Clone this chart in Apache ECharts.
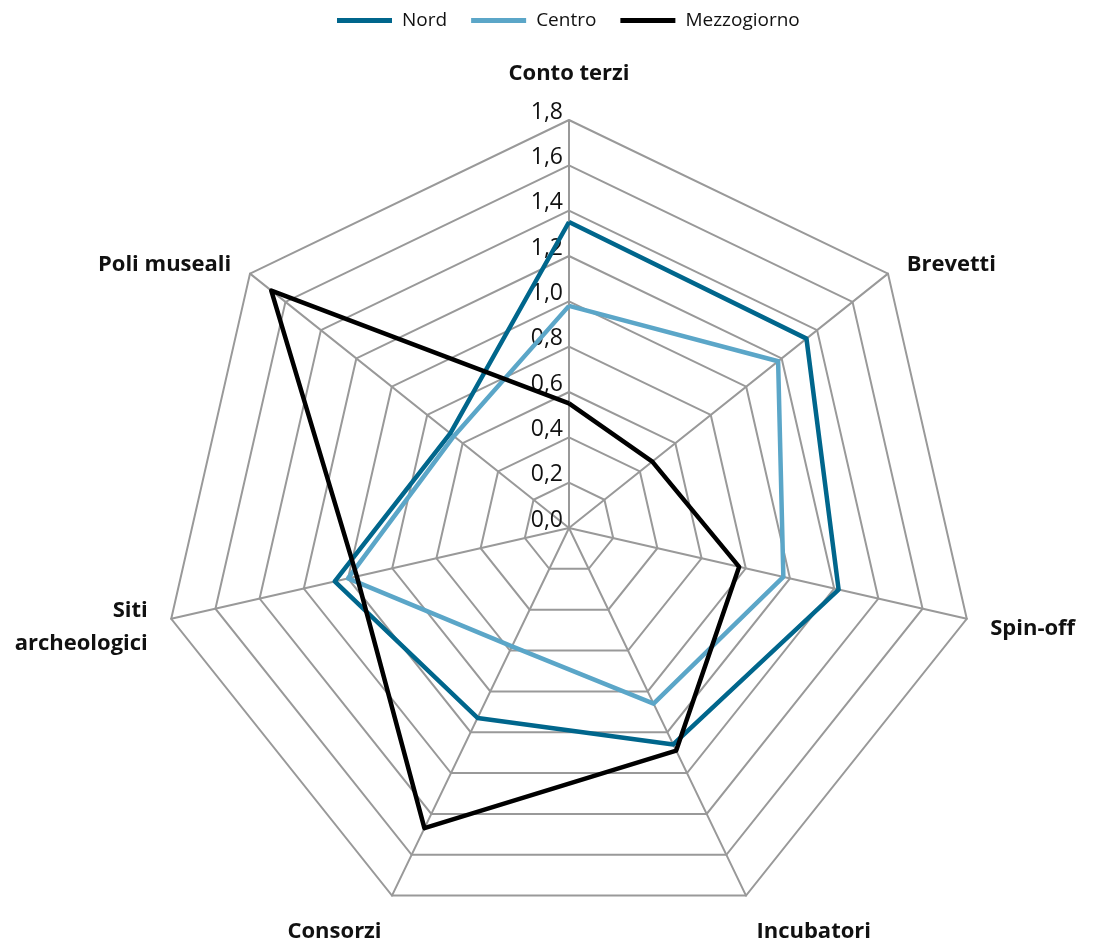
<!DOCTYPE html>
<html>
<head>
<meta charset="utf-8">
<script src="https://cdn.jsdelivr.net/npm/echarts@6/dist/echarts.min.js"></script>
<style>
html,body{margin:0;padding:0;background:#fff;}
#chart{width:1097px;height:949px;}
</style>
</head>
<body>
<div id="chart"></div>
<script>
// Indicators in clockwise order as seen in the chart (starting at top)
const indicators = ['Conto terzi', 'Brevetti', 'Spin-off', 'Incubatori', 'Consorzi', 'Siti\narcheologici', 'Poli museali'];
const nord        = [1.35, 1.34, 1.22, 1.06, 0.93, 1.06, 0.67];
const centro      = [0.98, 1.18, 0.97, 0.86, 0.58, 1.00, 0.65];
const mezzogiorno = [0.55, 0.47, 0.77, 1.09, 1.47, 0.96, 1.68];
const seriesNames = ['Nord', 'Centro', 'Mezzogiorno'];
const colors = ['#00668c', '#5ba6c8', '#000000'];
const axisMax = 1.8;

// ECharts radar places indicators counter-clockwise; reverse all but the first
function ccw(arr) { return [arr[0]].concat(arr.slice(1).reverse()); }

// spacer lines (rich style keys) used to nudge names
const nameSpacerAbove = {
  'Brevetti': 's12',
  'Spin-off': 's10',
  'Incubatori': 's30',
  'Consorzi': 's30',
  'Siti\narcheologici': 's6',
  'Poli museali': 's12'
};
const nameSpacerBelow = {
  'Conto terzi': 's6'
};

function formatName(name) {
  let s = name;
  if (nameSpacerAbove[name]) s = '{' + nameSpacerAbove[name] + '| }\n' + s;
  if (nameSpacerBelow[name]) s = s + '\n{' + nameSpacerBelow[name] + '| }';
  return s;
}

const ind = ccw(indicators).map((n, i) => {
  const o = { name: n, max: axisMax, min: 0 };
  if (i === 0) {
    o.axisLabel = {
      show: true,
      color: '#111',
      fontSize: 23,
      fontFamily: 'Open Sans',
      margin: 6,
      verticalAlign: 'bottom',
      lineHeight: 16,
      formatter: v => v.toFixed(1).replace('.', ',')
    };
  }
  return o;
});

const chart = echarts.init(document.getElementById('chart'), null, { renderer: 'canvas' });
chart.setOption({
  animation: false,
  color: colors,
  legend: {
    top: 6,
    left: 332,
    icon: 'rect',
    itemWidth: 55,
    itemHeight: 5,
    itemGap: 24,
    textStyle: { fontFamily: 'Open Sans', fontSize: 19, color: '#111', padding: [0, 0, 0, 5] },
    data: seriesNames
  },
  radar: {
    center: [569, 528],
    radius: 408,
    startAngle: 90,
    shape: 'polygon',
    splitNumber: 9,
    indicator: ind,
    nameGap: 24,
    axisName: {
      color: '#111',
      fontFamily: 'Open Sans',
      fontSize: 22,
      fontWeight: 'bold',
      lineHeight: 33,
      formatter: formatName,
      rich: {
        s6:  { lineHeight: 6,  fontSize: 4 },
        s10: { lineHeight: 10, fontSize: 4 },
        s12: { lineHeight: 12, fontSize: 4 },
        s30: { lineHeight: 30, fontSize: 4 }
      }
    },
    axisLabel: { show: false },
    splitArea: { show: false },
    splitLine: { lineStyle: { color: '#999999', width: 2 } },
    axisLine: { lineStyle: { color: '#999999', width: 2 } },
    axisTick: { show: false }
  },
  series: [{
    type: 'radar',
    symbol: 'none',
    lineStyle: { width: 4.5 },
    data: [
      { name: seriesNames[0], value: ccw(nord), lineStyle: { color: colors[0], width: 4.5 }, itemStyle: { color: colors[0] } },
      { name: seriesNames[1], value: ccw(centro), lineStyle: { color: colors[1], width: 4.5 }, itemStyle: { color: colors[1] } },
      { name: seriesNames[2], value: ccw(mezzogiorno), lineStyle: { color: colors[2], width: 4.5 }, itemStyle: { color: colors[2] } }
    ]
  }]
});
</script>
</body>
</html>
